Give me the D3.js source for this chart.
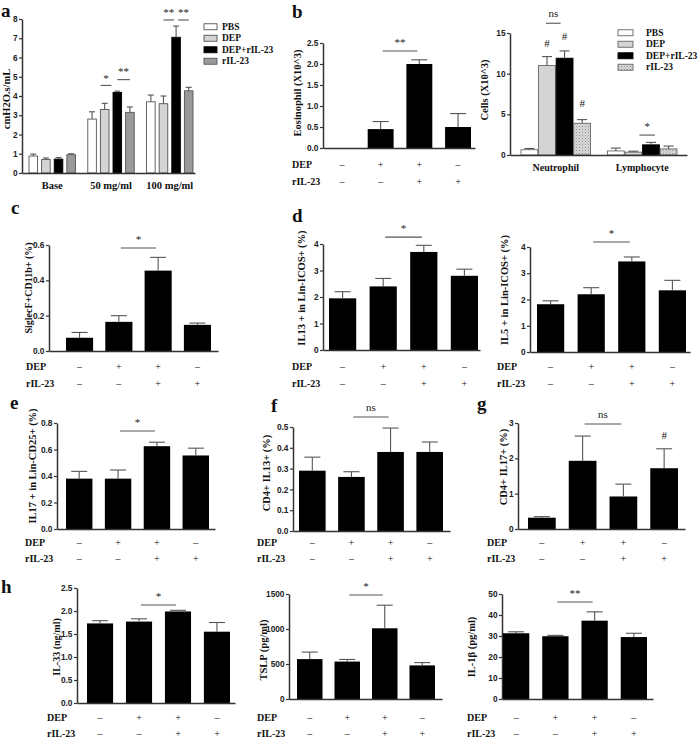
<!DOCTYPE html>
<html><head><meta charset="utf-8">
<script src="https://cdn.jsdelivr.net/npm/d3@7"></script>
<style>
body{margin:0;background:#fff;}
svg text{font-family:"Liberation Serif","Times New Roman",serif;font-weight:bold;fill:#111;}
</style></head><body>
<svg id="chart" width="698" height="738"></svg>
<script>
// ---------------- DATA ----------------
const treatDEP = ["–","+","+","–"];
const treatRIL = ["–","–","+","+"];

// a: airway resistance
const aGroups = ["Base","50 mg/ml","100 mg/ml"];
const aSeries = ["PBS","DEP","DEP+rIL-23","rIL-23"];
const aMeanPBS    = [0.88, 2.80, 3.70];
const aMeanDEP    = [0.70, 3.30, 3.60];
const aMeanDEPrIL = [0.72, 4.18, 7.05];
const aMeanRIL    = [0.95, 3.15, 4.27];
const aErrPBS     = [0.10, 0.38, 0.35];
const aErrDEP     = [0.08, 0.32, 0.40];
const aErrDEPrIL  = [0.08, 0.07, 0.58];
const aErrRIL     = [0.05, 0.28, 0.18];
const aTicks = [0,1,2,3,4,5,6,7,8];

// b left: eosinophil
const bEosMean = [0, 0.45, 2.00, 0.50];
const bEosErr  = [0, 0.18, 0.10, 0.32];
const bEosTicks = [0,0.5,1.0,1.5,2.0,2.5];

// b right: cells
const bCellGroups = ["Neutrophil","Lymphocyte"];
const bCellSeries = ["PBS","DEP","DEP+rIL-23","rIL-23"];
const bCellPBS    = [0.65, 0.50];
const bCellDEP    = [11.0, 0.35];
const bCellDEPrIL = [11.9, 1.25];
const bCellRIL    = [3.90, 0.75];
const bCellErrPBS    = [0.15, 0.35];
const bCellErrDEP    = [1.10, 0.12];
const bCellErrDEPrIL = [0.90, 0.30];
const bCellErrRIL    = [0.45, 0.35];
const bCellTicks = [0,5,10,15];

// c
const cMean = [0.075, 0.165, 0.455, 0.148];
const cErr  = [0.030, 0.035, 0.075, 0.010];
const cTicks = [0,0.2,0.4,0.6];
// d
const dIL13Mean = [1.95, 2.40, 3.70, 2.80];
const dIL13Err  = [0.25, 0.30, 0.25, 0.25];
const dIL5Mean  = [1.82, 2.20, 3.45, 2.35];
const dIL5Err   = [0.13, 0.25, 0.17, 0.38];
const dTicks = [0,1,2,3,4];
// e
const eMean = [0.38, 0.38, 0.625, 0.555];
const eErr  = [0.055, 0.065, 0.030, 0.055];
const eTicks = [0,0.2,0.4,0.6,0.8];
// f
const fMean = [0.29, 0.26, 0.38, 0.38];
const fErr  = [0.065, 0.025, 0.115, 0.048];
const fTicks = [0,0.1,0.2,0.3,0.4,0.5];
// g
const gMean = [0.32, 1.93, 0.92, 1.72];
const gErr  = [0.03, 0.70, 0.35, 0.55];
const gTicks = [0,1,2,3];
// h
const hIL33Mean = [1.73, 1.77, 1.99, 1.55];
const hIL33Err  = [0.06, 0.06, 0.025, 0.20];
const hIL33Ticks = [0,0.5,1.0,1.5,2.0,2.5];
const hTSLPMean = [570, 535, 1010, 480];
const hTSLPErr  = [100, 30, 330, 40];
const hTSLPTicks = [0,500,1000,1500];
const hIL1bMean = [31.3, 29.9, 37.3, 29.5];
const hIL1bErr  = [0.7, 0.4, 4.2, 1.8];
const hIL1bTicks = [0,10,20,30,40,50];

// ---------------- DRAWING ----------------
const svg = d3.select("#chart");
const defs = svg.append("defs");
const pat = defs.append("pattern").attr("id","dots").attr("width",3).attr("height",3)
  .attr("patternUnits","userSpaceOnUse");
pat.append("rect").attr("width",3).attr("height",3).attr("fill","#dcdcdc");
pat.append("rect").attr("width",1).attr("height",1).attr("fill","#8c8c8c");
pat.append("rect").attr("x",1.5).attr("y",1.5).attr("width",1).attr("height",1).attr("fill","#9a9a9a");

const AX = "#333", ERR = "#555", SIG = "#555";
const f1 = d3.format(".1f"), f0 = d3.format("d");

function drawYAxis(y, ticks, fmt, axX){
  const g = svg.append("g").attr("transform",`translate(${axX},0)`)
    .call(d3.axisLeft(y).tickValues(ticks).tickFormat(fmt).tickSize(3).tickSizeOuter(0).tickPadding(1.5));
  g.attr("font-family",null).attr("font-size",null);
  g.select(".domain").attr("stroke",AX).attr("stroke-width",1.5);
  g.selectAll(".tick line").attr("stroke",AX).attr("stroke-width",1.2);
  g.selectAll(".tick text").style("font-family","'Liberation Sans',Arial,sans-serif")
    .style("font-size","8.3px").style("font-weight","bold").style("fill","#222");
}
function drawXLine(axX, xEnd, yBot){
  const s = d3.scaleLinear().range([axX, xEnd]);
  const g = svg.append("g").attr("transform",`translate(0,${yBot})`)
    .call(d3.axisBottom(s).tickValues([]).tickSizeOuter(0));
  g.select(".domain").attr("stroke",AX).attr("stroke-width",1.5);
}
function errBar(cx, y, m, e, cap){
  if(!e) return;
  svg.append("line").attr("x1",cx).attr("x2",cx).attr("y1",y(m)).attr("y2",y(m+e))
    .attr("stroke",ERR).attr("stroke-width",1.1);
  svg.append("line").attr("x1",cx-cap/2).attr("x2",cx+cap/2).attr("y1",y(m+e)).attr("y2",y(m+e))
    .attr("stroke",ERR).attr("stroke-width",1.1);
}
function sigMark(x1, x2, yLine, label, off){
  svg.append("line").attr("x1",x1).attr("x2",x2).attr("y1",yLine).attr("y2",yLine)
    .attr("stroke",SIG).attr("stroke-width",1.1);
  svg.append("text").attr("x",(x1+x2)/2).attr("y",yLine-off).attr("text-anchor","middle")
    .style("font-size","11px").style("font-weight","normal").style("fill","#222").text(label);
}
function yLabel(text, x, y, size){
  svg.append("text").attr("transform",`translate(${x},${y}) rotate(-90)`)
    .attr("text-anchor","middle").attr("dominant-baseline","central")
    .style("font-size",(size||10.5)+"px").text(text);
}
function letter(t, x, y){
  svg.append("text").attr("x",x).attr("y",y).style("font-size","19px").text(t);
}
function treatRows(x, labelX, rowY1, rowY2){
  [[ "DEP", treatDEP, rowY1],["rIL-23", treatRIL, rowY2]].forEach(([lab, arr, ry])=>{
    svg.append("text").attr("x",labelX).attr("y",ry).attr("dominant-baseline","central")
      .style("font-size","10px").text(lab);
    arr.forEach((s,i)=>{
      svg.append("text").attr("x",x(i)+x.bandwidth()/2).attr("y",ry).attr("dominant-baseline","central")
        .attr("text-anchor","middle").style("font-size","10px").style("font-weight","normal").text(s);
    });
  });
}

function barPanel(p){
  const y = d3.scaleLinear().domain([0,p.max]).range([p.yBot,p.yTop]);
  const x = d3.scaleBand().domain(d3.range(p.means.length)).range(p.band).paddingInner(p.pad);
  drawYAxis(y, p.ticks, p.fmt, p.axX);
  svg.append("g").selectAll("rect").data(p.means).join("rect")
    .attr("x",(d,i)=>x(i)).attr("width",x.bandwidth())
    .attr("y",d=>y(d)).attr("height",d=>y(0)-y(d)).attr("fill","#000");
  p.means.forEach((m,i)=>errBar(x(i)+x.bandwidth()/2, y, m, p.errs[i], 16));
  drawXLine(p.axX, p.xEnd, p.yBot);
  const c = i => x(i)+x.bandwidth()/2;
  (p.sig||[]).forEach(s=>sigMark(c(s[0])+2, c(s[1])-2, y(s[2]), s[3], s[4]||5));
  (p.marks||[]).forEach(s=>{
    svg.append("text").attr("x",c(s[0])).attr("y",y(s[1])).attr("text-anchor","middle")
      .style("font-size","11px").style("font-weight","normal").text(s[2]);
  });
  treatRows(x, p.labelX, p.rowY[0], p.rowY[1]);
  yLabel(p.ylab, p.ylabPos[0], p.ylabPos[1], p.ylabSize);
}

// ---- panel a ----
(function(){
  const axX=22, yTop=19, yBot=173, xEnd=195;
  const y = d3.scaleLinear().domain([0,8]).range([yBot,yTop]);
  const x0 = d3.scaleBand().domain(aGroups).range([29,193]).paddingInner(0.21);
  const x1 = d3.scaleBand().domain(aSeries).range([0,x0.bandwidth()]).paddingInner(0.32);
  const fills = ["#fff","#d4d4d4","#000","#9a9a9a"];
  const means = [aMeanPBS,aMeanDEP,aMeanDEPrIL,aMeanRIL];
  const errs = [aErrPBS,aErrDEP,aErrDEPrIL,aErrRIL];
  drawYAxis(y, aTicks, f0, axX);
  aSeries.forEach((s,si)=>{
    aGroups.forEach((g,gi)=>{
      const m = means[si][gi];
      svg.append("rect").attr("x",x0(g)+x1(s)).attr("width",x1.bandwidth())
        .attr("y",y(m)).attr("height",y(0)-y(m)).attr("fill",fills[si])
        .attr("stroke", si===2?"#000":"#555").attr("stroke-width",0.9);
      errBar(x0(g)+x1(s)+x1.bandwidth()/2, y, m, errs[si][gi], 6);
    });
  });
  drawXLine(axX, xEnd, yBot);
  const c = (g,s)=>x0(aGroups[g])+x1(aSeries[s])+x1.bandwidth()/2;
  sigMark(c(1,1)-4, c(1,2)-6, y(4.55), "*", 3);
  sigMark(c(1,2), c(1,3), y(4.85), "**", 5);
  sigMark(c(2,1), c(2,2)-2, y(7.95), "**", 4);
  sigMark(c(2,2)+2, c(2,3), y(7.95), "**", 4);
  aGroups.forEach(g=>svg.append("text").attr("x",x0(g)+x0.bandwidth()/2).attr("y",185)
    .attr("text-anchor","middle").attr("dominant-baseline","central").style("font-size","10.5px").text(g));
  yLabel("cmH2O.s/mL", 6, 99, 10.5);
  // legend
  const ly = d3.scaleBand().domain(aSeries).range([21,67]);
  aSeries.forEach((s,si)=>{
    svg.append("rect").attr("x",204).attr("y",ly(s)+ly.bandwidth()/2-3).attr("width",13).attr("height",6)
      .attr("fill",fills[si]).attr("stroke",si===2?"#000":"#555").attr("stroke-width",0.9);
    svg.append("text").attr("x",222).attr("y",ly(s)+ly.bandwidth()/2).attr("dominant-baseline","central")
      .style("font-size","9.5px").text(s);
  });
  letter("a", 1, 17);
})();

// ---- panel b left ----
barPanel({max:2.5, yTop:43, yBot:148, axX:323, xEnd:475, band:[329,471], pad:0.33,
  means:bEosMean, errs:bEosErr, ticks:bEosTicks, fmt:f1,
  sig:[[1,2,2.31,"**",5]], labelX:292, rowY:[164,181],
  ylab:"Eosinophil  (X10^3)", ylabPos:[297,93], ylabSize:10.5});
letter("b", 292, 18);

// ---- panel b right ----
(function(){
  const axX=510, yTop=33, yBot=155, xEnd=687;
  const y = d3.scaleLinear().domain([0,15]).range([yBot,yTop]);
  const x0 = d3.scaleBand().domain(bCellGroups).range([521,677]).paddingInner(0.195);
  const x1 = d3.scaleBand().domain(bCellSeries).range([0,x0.bandwidth()]).paddingInner(0.04);
  const fills = ["#fff","#d4d4d4","#000","url(#dots)"];
  const means = [bCellPBS,bCellDEP,bCellDEPrIL,bCellRIL];
  const errs = [bCellErrPBS,bCellErrDEP,bCellErrDEPrIL,bCellErrRIL];
  drawYAxis(y, bCellTicks, f0, axX);
  bCellSeries.forEach((s,si)=>{
    bCellGroups.forEach((g,gi)=>{
      const m = means[si][gi];
      svg.append("rect").attr("x",x0(g)+x1(s)).attr("width",x1.bandwidth())
        .attr("y",y(m)).attr("height",y(0)-y(m)).attr("fill",fills[si])
        .attr("stroke", si===2?"#000":"#666").attr("stroke-width",0.9);
      errBar(x0(g)+x1(s)+x1.bandwidth()/2, y, m, errs[si][gi], 10);
    });
  });
  drawXLine(axX, xEnd, yBot);
  const c = (g,s)=>x0(bCellGroups[g])+x1(bCellSeries[s])+x1.bandwidth()/2;
  sigMark(c(0,1)-1, c(0,2)-4, y(16.2), "ns", 6);
  sigMark(c(1,1)+6, c(1,2)+4, y(2.45), "*", 5);
  [[0,1,13.3],[0,2,14.2],[0,3,5.9]].forEach(([g,s,v])=>
    svg.append("text").attr("x",c(g,s)).attr("y",y(v)).attr("text-anchor","middle")
      .style("font-size","11px").style("font-weight","normal").text("#"));
  bCellGroups.forEach(g=>svg.append("text").attr("x",x0(g)+x0.bandwidth()/2).attr("y",167)
    .attr("text-anchor","middle").attr("dominant-baseline","central").style("font-size","10px").text(g));
  yLabel("Cells (X10^3)", 484, 90, 10.5);
  const ly = d3.scaleBand().domain(bCellSeries).range([27,73]);
  bCellSeries.forEach((s,si)=>{
    svg.append("rect").attr("x",618).attr("y",ly(s)+ly.bandwidth()/2-3).attr("width",15).attr("height",6)
      .attr("fill",fills[si]).attr("stroke",si===2?"#000":"#666").attr("stroke-width",0.9);
    svg.append("text").attr("x",646).attr("y",ly(s)+ly.bandwidth()/2).attr("dominant-baseline","central")
      .style("font-size","9.5px").text(s);
  });
})();

// ---- panel c ----
barPanel({max:0.6, yTop:245, yBot:351, axX:49, xEnd:218, band:[66,211], pad:0.31,
  means:cMean, errs:cErr, ticks:cTicks, fmt:f1,
  sig:[[1,2,0.583,"*",5]], labelX:26, rowY:[366,383],
  ylab:"SiglecF+CD11b+ (%)", ylabPos:[28,288], ylabSize:10});
letter("c", 11, 214);

// ---- panel d ----
barPanel({max:4, yTop:244, yBot:350, axX:323, xEnd:480, band:[329,478], pad:0.33,
  means:dIL13Mean, errs:dIL13Err, ticks:dTicks, fmt:f0,
  sig:[[1,2,4.26,"*",5]], labelX:292, rowY:[366,383],
  ylab:"IL13 + in Lin-ICOS+ (%)", ylabPos:[301,288], ylabSize:10.5});
letter("d", 292, 222);
barPanel({max:4, yTop:247, yBot:352, axX:530, xEnd:690, band:[537,686], pad:0.33,
  means:dIL5Mean, errs:dIL5Err, ticks:dTicks, fmt:f0,
  sig:[[1,2,4.19,"*",5]], labelX:497, rowY:[366,383],
  ylab:"IL5 + in Lin-ICOS+ (%)", ylabPos:[504,290], ylabSize:10.5});

// ---- panel e ----
barPanel({max:0.8, yTop:423, yBot:529, axX:57, xEnd:215, band:[66,209], pad:0.32,
  means:eMean, errs:eErr, ticks:eTicks, fmt:f1,
  sig:[[1,2,0.74,"*",5]], labelX:25, rowY:[542,558],
  ylab:"IL17 + in Lin-CD25+ (%)", ylabPos:[32,466], ylabSize:10.5});
letter("e", 10, 409);

// ---- panel f ----
barPanel({max:0.5, yTop:427, yBot:531, axX:293, xEnd:450, band:[299,443], pad:0.32,
  means:fMean, errs:fErr, ticks:fTicks, fmt:f1,
  sig:[[1,2,0.548,"ns",6]], labelX:257, rowY:[542,558],
  ylab:"CD4+ IL13+ (%)", ylabPos:[266,473], ylabSize:10.5});
letter("f", 271, 412);

// ---- panel g ----
barPanel({max:3, yTop:423, yBot:529, axX:518, xEnd:685, band:[528,678], pad:0.32,
  means:gMean, errs:gErr, ticks:gTicks, fmt:f0,
  sig:[[1,2,2.97,"ns",6]], marks:[[3,2.55,"#"]], labelX:487, rowY:[542,558],
  ylab:"CD4+ IL17+ (%)", ylabPos:[503,467], ylabSize:10.5});
letter("g", 477, 410);

// ---- panel h ----
barPanel({max:2.5, yTop:588, yBot:703, axX:77, xEnd:235, band:[87,230], pad:0.33,
  means:hIL33Mean, errs:hIL33Err, ticks:hIL33Ticks, fmt:f1,
  sig:[[1,2,2.13,"*",5]], labelX:47, rowY:[717,733],
  ylab:"IL-33 (ng/ml)", ylabPos:[56,647], ylabSize:10});
letter("h", 1, 593);
barPanel({max:1500, yTop:594, yBot:699, axX:289, xEnd:442, band:[297,435], pad:0.32,
  means:hTSLPMean, errs:hTSLPErr, ticks:hTSLPTicks, fmt:f0,
  sig:[[1,2,1486,"*",5]], labelX:257, rowY:[717,733],
  ylab:"TSLP (pg/ml)", ylabPos:[263,650], ylabSize:10.5});
barPanel({max:50, yTop:594, yBot:699, axX:502, xEnd:653, band:[503,647], pad:0.33,
  means:hIL1bMean, errs:hIL1bErr, ticks:hIL1bTicks, fmt:f0,
  sig:[[1,2,46.2,"**",5]], labelX:467, rowY:[717,733],
  ylab:"IL-1β (pg/ml)", ylabPos:[471,647], ylabSize:10.5});
</script>
</body></html>
